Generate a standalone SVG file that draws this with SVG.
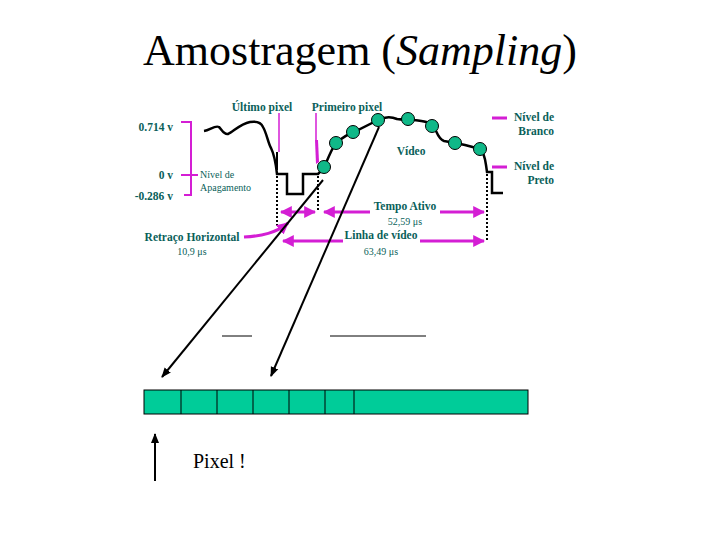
<svg xmlns="http://www.w3.org/2000/svg" width="720" height="540" viewBox="0 0 720 540">
<defs>
<style>
.t{font-family:"Liberation Serif","Times New Roman",serif;fill:#0a5f5a;font-weight:bold;font-size:11.5px}
.ts{font-family:"Liberation Serif","Times New Roman",serif;fill:#0a5f5a;font-size:10px}
.mg{stroke:#d41ed4;fill:none}
.bk{stroke:#000;fill:none}
.dot{fill:#10b888;stroke:#000;stroke-width:1}
.dash{stroke:#000;stroke-width:2;stroke-dasharray:2 2;fill:none}
.cell{fill:#00cc99;stroke:#000;stroke-width:1}
</style>
<marker id="ma" viewBox="0 0 10 10" refX="9" refY="5" markerWidth="4" markerHeight="4" orient="auto-start-reverse">
<path d="M0,0 L10,5 L0,10 z" fill="#d41ed4"/>
</marker>
<marker id="ka" viewBox="0 0 10 10" refX="9" refY="5" markerWidth="5" markerHeight="5" orient="auto">
<path d="M0,1 L10,5 L0,9 z" fill="#000"/>
</marker>
</defs>
<rect width="720" height="540" fill="#fff"/>
<text x="360" y="65" text-anchor="middle" font-family="Liberation Serif,serif" font-size="44" fill="#000">Amostragem (<tspan font-style="italic">Sampling</tspan>)</text>

<g id="waveform">
<path class="bk" stroke-width="2.5" d="M204,131 C210,130 215,125 219,127 C222,130 224,135 228,134 C233,132 240,124 250,122 C256,121 261,122 263,127 C267,134 268,143 271,148 C275,156 276,165 277,174 L287,174 L287,194 L303,194 L303,174 L318,174 L324,168 C328,158 332,148 336,143 C342,138 348,134 354,132 C362,128 370,124 378,120 C384,117 390,116 397,119 C403,120 408,119 414,120 C424,121 430,122 434,127 C437,132 438,139 444,141 C450,142 456,143 465,145 L480,149 C484,152 485,158 486,165 L487,172 L492,172 L492,193 L503,193"/>
<path class="bk" stroke-width="2" d="M277,152 L277,170"/>
</g>

<g id="samples">
<circle class="dot" cx="324" cy="167" r="6.5"/>
<circle class="dot" cx="336" cy="143" r="6.5"/>
<circle class="dot" cx="353" cy="132" r="6.5"/>
<circle class="dot" cx="378" cy="120" r="6.5"/>
<circle class="dot" cx="408" cy="119" r="6.5"/>
<circle class="dot" cx="432" cy="126" r="6.5"/>
<circle class="dot" cx="455" cy="143" r="6.5"/>
<circle class="dot" cx="480" cy="149" r="6.5"/>
</g>

<g id="levels">
<path class="mg" stroke-width="2" d="M181,122 L191,122 L191,195 L184,195 M181,175 L198,175"/>
<text class="t" x="173" y="131" text-anchor="end">0.714 v</text>
<text class="t" x="173" y="179" text-anchor="end">0 v</text>
<text class="t" x="173" y="200" text-anchor="end">-0.286 v</text>
<text class="ts" x="200" y="178" font-size="11.5">Nível de</text>
<text class="ts" x="200" y="191" font-size="11.5">Apagamento</text>
<path class="mg" stroke-width="3" d="M492,118 L507,118 M492,167 L507,167"/>
<text class="t" x="554" y="121" text-anchor="end">Nível de</text>
<text class="t" x="554" y="135" text-anchor="end">Branco</text>
<text class="t" x="554" y="170" text-anchor="end">Nível de</text>
<text class="t" x="554" y="184" text-anchor="end">Preto</text>
<text class="t" x="411" y="155" text-anchor="middle">Vídeo</text>
</g>

<g id="pixel-labels">
<text class="t" x="262" y="111" text-anchor="middle">Último pixel</text>
<text class="t" x="347" y="111" text-anchor="middle">Primeiro pixel</text>
<path class="mg" stroke-width="1.5" d="M279,113 L279,152"/>
<path class="mg" stroke-width="1.5" d="M316,113 L316,140"/>
<path d="M315,140 L318,140 L319,162 L316,164 z" fill="#d41ed4"/>
</g>

<g id="timing">
<path class="dash" d="M277,176 L277,228 M318,176 L318,212 M487,174 L487,240"/>
<path class="mg" stroke-width="3" marker-start="url(#ma)" marker-end="url(#ma)" d="M281,212 L315,212"/>
<path class="mg" stroke-width="3" marker-start="url(#ma)" d="M324,212 L370,212"/>
<path class="mg" stroke-width="3" marker-end="url(#ma)" d="M440,212 L484,212"/>
<text class="t" x="405" y="210" text-anchor="middle">Tempo Ativo</text>
<text class="ts" x="405" y="225" text-anchor="middle">52,59 μs</text>
<path class="mg" stroke-width="3" marker-start="url(#ma)" d="M283,241 L343,241"/>
<path class="mg" stroke-width="3" marker-end="url(#ma)" d="M420,241 L484,241"/>
<text class="t" x="381" y="239" text-anchor="middle">Linha de vídeo</text>
<text class="ts" x="381" y="255" text-anchor="middle">63,49 μs</text>
<path class="mg" stroke-width="3" marker-end="url(#ma)" d="M244,237 C262,236 276,233 288,223"/>
<text class="t" x="192" y="241" text-anchor="middle">Retraço Horizontal</text>
<text class="ts" x="192" y="255" text-anchor="middle">10,9 μs</text>
</g>

<g id="connectors">
<path class="bk" stroke-width="2" marker-end="url(#ka)" d="M323,180 L162,377"/>
<path class="bk" stroke-width="2" marker-end="url(#ka)" d="M379,127 L271,376"/>
<path class="bk" stroke-width="1" d="M222,336 L252,336 M330,336 L426,336"/>
<path class="bk" stroke-width="2" marker-end="url(#ka)" d="M155,481 L155,434"/>
</g>

<g id="pixel-row">
<rect class="cell" x="144" y="390" width="384" height="24"/>
<path class="bk" stroke-width="1" d="M181,390 V414 M217,390 V414 M253,390 V414 M289,390 V414 M325,390 V414 M354,390 V414"/>
</g>
<text x="193" y="468" font-family="Liberation Serif,serif" font-size="20" fill="#000">Pixel !</text>
</svg>
